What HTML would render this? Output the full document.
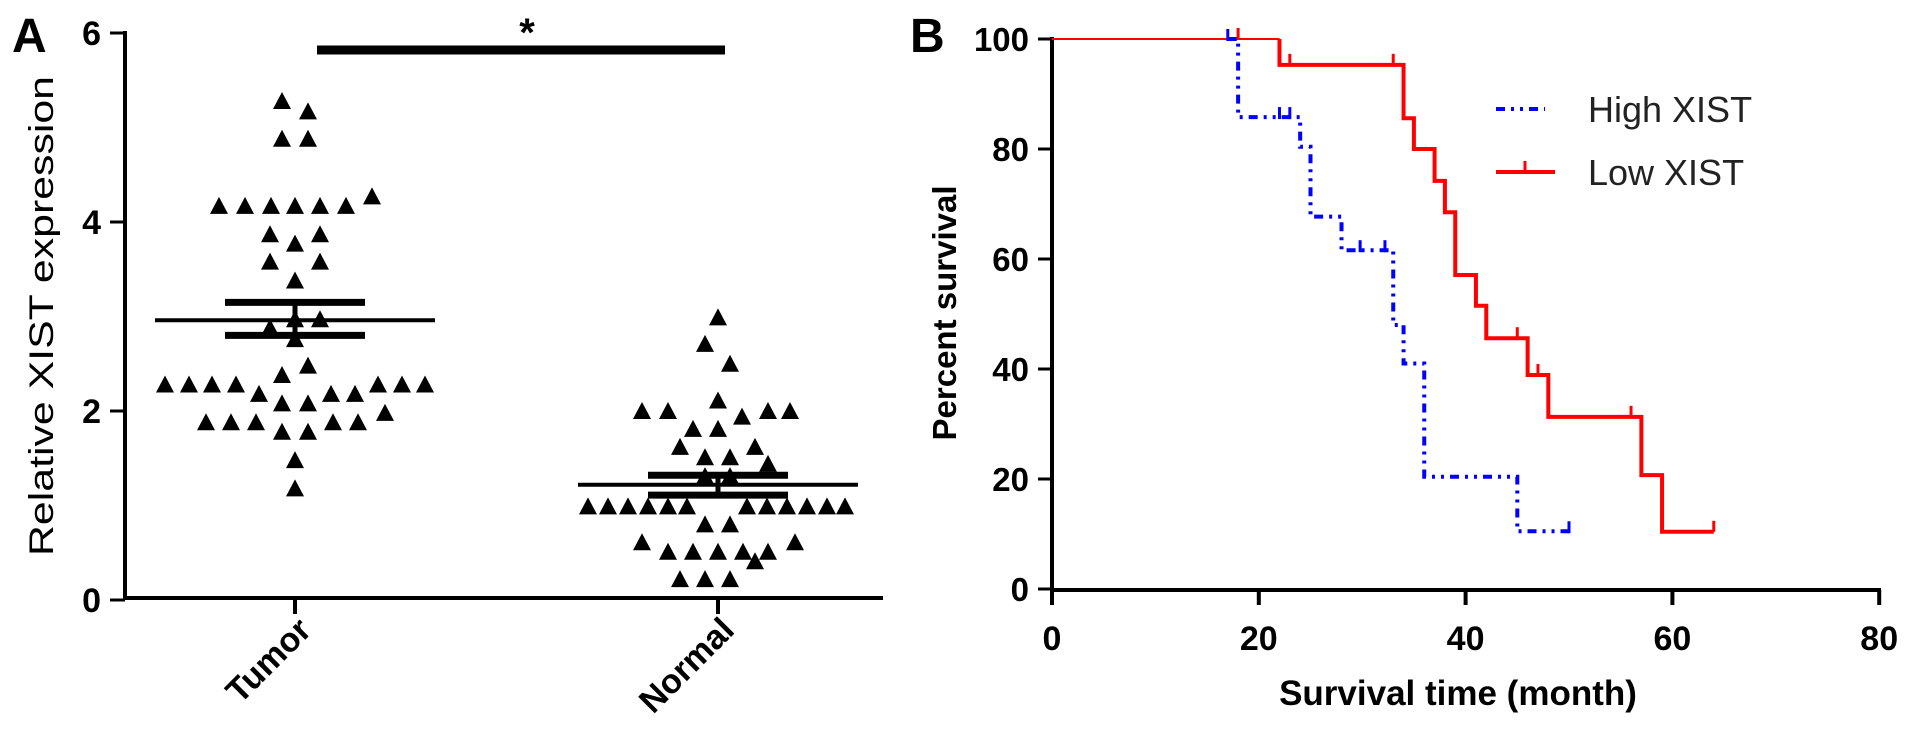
<!DOCTYPE html>
<html><head><meta charset="utf-8"><style>
html,body{margin:0;padding:0;background:#fff;}
svg{display:block;font-family:"Liberation Sans",Arial,sans-serif;}
</style></head><body>
<svg id="fig" width="1913" height="754" viewBox="0 0 1913 754" xmlns="http://www.w3.org/2000/svg">
<g id="panelA"></g>
<g id="panelB"></g>
</svg>
<script>
// ---------- Panel A data ----------
const groupNames = ["Tumor", "Normal"];
const tumorValues = [5.27,5.16,4.87,4.87,4.26,4.16,4.16,4.16,4.16,4.16,4.16,3.86,3.86,3.76,3.57,3.57,3.37,2.96,2.96,2.87,2.75,2.47,2.37,2.27,2.27,2.27,2.27,2.27,2.27,2.27,2.17,2.17,2.17,2.07,2.07,1.97,1.87,1.87,1.87,1.87,1.87,1.77,1.77,1.47,1.17];
const tumorOffsets = [-13,13,-13,13,77,-76,-50,-24,0,25,51,-25,25,0,-25,25,0,25,0,-25,0,13,-13,-130,-106,-83,-59,83,107,130,-36,36,60,-13,13,90,-89,-64,-39,38,63,-13,13,0,0];
const normalValues = [2.98,2.70,2.49,2.10,1.99,1.99,1.99,1.99,1.93,1.80,1.80,1.61,1.61,1.50,1.50,1.43,1.30,1.30,0.98,0.98,0.98,0.98,0.98,0.98,0.98,0.98,0.98,0.98,0.98,0.98,0.79,0.79,0.60,0.60,0.50,0.50,0.50,0.50,0.50,0.40,0.21,0.21,0.21];
const normalOffsets = [0,-13,12,0,-76,-50,50,72,24,-25,0,-38,37,-13,12,50,-13,12,-130,-110,-90,-70,-50,-31,29,49,69,89,109,127,-13,12,-76,77,-50,-25,0,25,50,37,-38,-13,12];
const groupMeans = [2.96, 1.22];
const groupSEMupper = [3.15, 1.32];
const groupSEMlower = [2.80, 1.11];
const yTicksA = [0, 2, 4, 6];

// ---------- Panel B data ----------
const xTicksB = [0, 20, 40, 60, 80];
const yTicksB = [0, 20, 40, 60, 80, 100];
const lowTimes = [0, 22, 34, 35, 37, 38, 39, 41, 42, 46, 48, 57, 59, 64];
const lowSurv  = [100, 95.3, 85.6, 80, 74.2, 68.5, 57.1, 51.5, 45.6, 38.9, 31.3, 20.7, 10.4, 10.4];
const lowCensor = [18, 23, 33, 45, 47, 56, 64];
const highTimes = [0, 18, 24, 25, 28, 33, 34, 36, 45, 50];
const highSurv  = [100, 85.8, 80.4, 67.7, 61.6, 48, 41, 20.4, 10.5, 10.5];
const highCensor = [17, 22, 23, 29.8, 32.2, 50];

const NS = "http://www.w3.org/2000/svg";
function mk(parent, tag, attrs, text){
  const e = document.createElementNS(NS, tag);
  for (const k in attrs) e.setAttribute(k, attrs[k]);
  if (text !== undefined) e.textContent = text;
  parent.appendChild(e);
  return e;
}

// ---------- Panel A ----------
const A = document.getElementById("panelA");
const ayA = v => 600 - v * 94.5;
const groupX = [295, 718];
const axA = i => groupX[i];

let t = mk(A, "text", {x: 12, y: 52, "font-size": 48, "font-weight": "bold"}, "A");



let l = mk(A, "line", {x1: 125, y1: 31, x2: 125, y2: 600, stroke: "#000", "stroke-width": 4});


l = mk(A, "line", {x1: 123, y1: 598, x2: 883, y2: 598, stroke: "#000", "stroke-width": 4});



yTicksA.forEach(v => {
  const y = ayA(v);
  const tk = mk(A, "line", {x1: 110, y1: y, x2: 125, y2: y, stroke: "#000", "stroke-width": 3});
  
  
  const tl = mk(A, "text", {x: 101, y: y + 12, "font-size": 34, "font-weight": "bold", "text-anchor": "end"}, String(v));
  
  
});

t = mk(A, "text", {x: 0, y: 0, "font-size": 34, "text-anchor": "middle", transform: "translate(53,316) rotate(-90)", textLength: 480, lengthAdjust: "spacingAndGlyphs"}, "Relative XIST expression");



groupNames.forEach((g, i) => {
  const x = axA(i);
  const tk = mk(A, "line", {x1: x, y1: 598, x2: x, y2: 614, stroke: "#000", "stroke-width": 4});
  
  
  const tl = mk(A, "text", {x: 0, y: 0, "font-size": 34, "font-weight": "bold", "text-anchor": "end", transform: `translate(${x + 18},${632}) rotate(-45)`}, g);
  
  
});

function tri(x, y, name){
  const p = mk(A, "polygon", {points: `${x},${y - 10} ${x - 9},${y + 7} ${x + 9},${y + 7}`, fill: "#000"});
  
  
}
tumorValues.forEach((v, i) => tri(axA(0) + tumorOffsets[i], ayA(v), 'tumor-point'));
normalValues.forEach((v, i) => tri(axA(1) + normalOffsets[i], ayA(v), 'normal-point'));

groupMeans.forEach((m, i) => {
  const x = axA(i);
  const ml = mk(A, "line", {x1: x - 140, y1: ayA(m), x2: x + 140, y2: ayA(m), stroke: "#000", "stroke-width": 4});
  
  
  const su = mk(A, "line", {x1: x - 70, y1: ayA(groupSEMupper[i]), x2: x + 70, y2: ayA(groupSEMupper[i]), stroke: "#000", "stroke-width": 7});
  
  
  const sl = mk(A, "line", {x1: x - 70, y1: ayA(groupSEMlower[i]), x2: x + 70, y2: ayA(groupSEMlower[i]), stroke: "#000", "stroke-width": 7});
  
  
  const sv = mk(A, "line", {x1: x, y1: ayA(groupSEMupper[i]), x2: x, y2: ayA(groupSEMlower[i]), stroke: "#000", "stroke-width": 5});
  
  
});

l = mk(A, "line", {x1: 317, y1: 50, x2: 725, y2: 50, stroke: "#000", "stroke-width": 9});


t = mk(A, "text", {x: 527, y: 46, "font-size": 40, "font-weight": "bold", "text-anchor": "middle"}, "*");



// ---------- Panel B ----------
const B = document.getElementById("panelB");
const bx = m => 1052 + m * 10.34;
const by = p => 589 - p * 5.5;

t = mk(B, "text", {x: 910, y: 52, "font-size": 48, "font-weight": "bold"}, "B");



l = mk(B, "line", {x1: 1052, y1: 37, x2: 1052, y2: 591, stroke: "#000", "stroke-width": 4});


l = mk(B, "line", {x1: 1050, y1: 590, x2: 1881, y2: 590, stroke: "#000", "stroke-width": 4});



yTicksB.forEach(v => {
  const y = by(v);
  const tk = mk(B, "line", {x1: 1038, y1: y, x2: 1052, y2: y, stroke: "#000", "stroke-width": 3});
  
  
  const tl = mk(B, "text", {x: 1029, y: y + 12, "font-size": 33, "font-weight": "bold", "text-anchor": "end"}, String(v));
  
  
});
xTicksB.forEach(v => {
  const x = bx(v);
  const tk = mk(B, "line", {x1: x, y1: 590, x2: x, y2: 605, stroke: "#000", "stroke-width": 4});
  
  
  const tl = mk(B, "text", {x: x, y: 650, "font-size": 34, "font-weight": "bold", "text-anchor": "middle"}, String(v));
  
  
});

t = mk(B, "text", {x: 0, y: 0, "font-size": 33, "font-weight": "bold", "text-anchor": "middle", transform: "translate(956,313) rotate(-90)"}, "Percent survival");


t = mk(B, "text", {x: 1458, y: 705, "font-size": 35, "font-weight": "bold", "text-anchor": "middle"}, "Survival time (month)");



function stepPath(times, surv){
  let d = `M${bx(times[0])},${by(surv[0])}`;
  for (let i = 1; i < times.length; i++){
    d += ` H${bx(times[i])} V${by(surv[i])}`;
  }
  return d;
}
function survAt(times, surv, tm){
  let s = surv[0];
  for (let i = 0; i < times.length; i++) if (times[i] <= tm) s = surv[i];
  return s;
}

// Low XIST (red)
let p = mk(B, "path", {d: `M${bx(0)},${by(100)} H${bx(lowTimes[1])}`, stroke: "#ff0000", "stroke-width": 2, fill: "none"});


p = mk(B, "path", {d: stepPath(lowTimes.slice(1), lowSurv.slice(1)).replace(/^M[^ ]+/, `M${bx(lowTimes[1])},${by(lowSurv[0])} V${by(lowSurv[1])}`), stroke: "#ff0000", "stroke-width": 4, fill: "none"});


lowCensor.forEach(c => {
  const y = by(survAt(lowTimes, lowSurv, c));
  const m = mk(B, "line", {x1: bx(c), y1: y, x2: bx(c), y2: y - 11, stroke: "#ff0000", "stroke-width": 3});
  
  
});

// High XIST (blue dash-dot)
p = mk(B, "path", {d: stepPath(highTimes, highSurv).replace(/^M[^ ]+ H[^ ]+ /, `M${bx(17)},${by(100)} H${bx(highTimes[1])} `), stroke: "#0000ff", "stroke-width": 4, fill: "none", "stroke-dasharray": "9 6 3 6 3 6"});


highCensor.forEach(c => {
  const y = by(survAt(highTimes, highSurv, c));
  const m = mk(B, "line", {x1: bx(c), y1: y + 2, x2: bx(c), y2: y - 10, stroke: "#0000ff", "stroke-width": 3});
  
  
});

// Legend
const lg = mk(B, "g", {});


l = mk(lg, "line", {x1: 1496, y1: 109, x2: 1545, y2: 109, stroke: "#0000ff", "stroke-width": 4, "stroke-dasharray": "9 6 3 6 3 6"});


t = mk(lg, "text", {x: 1588, y: 122, "font-size": 36, fill: "#222"}, "High XIST");


l = mk(lg, "line", {x1: 1496, y1: 172, x2: 1555, y2: 172, stroke: "#ff0000", "stroke-width": 4});


l = mk(lg, "line", {x1: 1525, y1: 172, x2: 1525, y2: 161, stroke: "#ff0000", "stroke-width": 3});


t = mk(lg, "text", {x: 1588, y: 185, "font-size": 36, fill: "#222"}, "Low XIST");


</script>
</body></html>
